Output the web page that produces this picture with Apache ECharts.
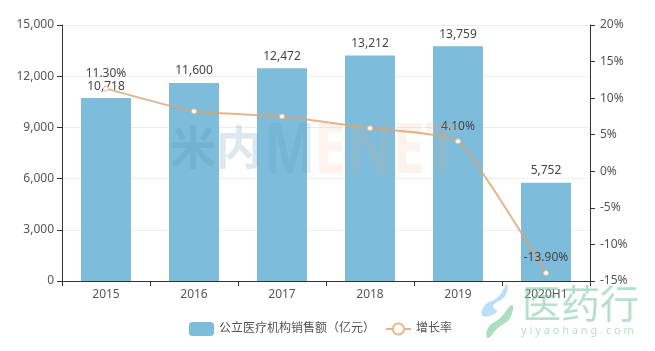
<!DOCTYPE html>
<html>
<head>
<meta charset="utf-8">
<style>html,body{margin:0;padding:0;background:#fff}#main{width:655px;height:351px}</style>
<script src="https://cdn.jsdelivr.net/npm/echarts@6/dist/echarts.min.js"></script>
</head>
<body>
<div id="main"></div>
<script>
var categories = ['2015', '2016', '2017', '2018', '2019', '2020H1'];
var sales = [10718, 11600, 12472, 13212, 13759, 5752];
var growth = [11.3, 8.2, 7.5, 5.9, 4.1, -13.9];
var growthLabels = ['11.30%', '', '', '', '4.10%', '-13.90%'];
var barName = '公立医疗机构销售额（亿元）';
var lineName = '增长率';

var FONT = '"Noto Sans", "Noto Sans CJK SC", sans-serif';
var chart = echarts.init(document.getElementById('main'), null, { renderer: 'canvas' });

chart.setOption({
  backgroundColor: '#fff',
  animation: false,
  grid: { left: 62, right: 65, top: 25, bottom: 70 },
  legend: {
    bottom: 10,
    left: 184,
    itemGap: 10,
    itemWidth: 25,
    itemHeight: 14,
    textStyle: { color: '#555', fontSize: 12, fontFamily: FONT },
    data: [barName, lineName]
  },
  xAxis: {
    type: 'category',
    data: categories,
    axisLine: { lineStyle: { color: '#333' } },
    axisTick: { show: true, lineStyle: { color: '#333' } },
    axisLabel: { color: '#555', fontSize: 12, margin: 8, fontFamily: FONT }
  },
  yAxis: [
    {
      type: 'value',
      min: 0,
      max: 15000,
      interval: 3000,
      axisLine: { show: true, lineStyle: { color: '#333' } },
      axisTick: { show: true, lineStyle: { color: '#333' } },
      splitLine: { lineStyle: { color: '#eee' } },
      axisLabel: {
        color: '#555', fontSize: 12, fontFamily: FONT,
        formatter: function (v) { return v.toLocaleString('en-US'); }
      }
    },
    {
      type: 'value',
      min: -15,
      max: 20,
      interval: 5,
      axisLine: { show: true, lineStyle: { color: '#333' } },
      axisTick: { show: true, lineStyle: { color: '#333' } },
      splitLine: { show: false },
      axisLabel: { color: '#555', fontSize: 12, margin: 10, fontFamily: FONT, formatter: '{value}%' }
    }
  ],
  series: [
    {
      name: barName,
      type: 'bar',
      yAxisIndex: 0,
      barWidth: 50,
      data: sales,
      itemStyle: { color: '#7dbcdb' },
      label: {
        show: true,
        position: 'top',
        distance: 6,
        color: '#444',
        fontSize: 12,
        fontFamily: FONT,
        formatter: function (p) { return p.value.toLocaleString('en-US'); }
      }
    },
    {
      name: lineName,
      type: 'line',
      yAxisIndex: 1,
      smooth: 0.15,
      data: growth,
      symbol: 'circle',
      symbolSize: 5,
      lineStyle: { color: '#dca36d', width: 2, opacity: 0.8 },
      itemStyle: { color: '#fff', borderColor: '#e6b88c', borderWidth: 1 },
      label: {
        show: true,
        position: 'top',
        distance: 6,
        color: '#444',
        fontSize: 12,
        fontFamily: FONT,
        formatter: function (p) { return growthLabels[p.dataIndex]; }
      }
    }
  ],
  graphic: [
    // 水印
    { type: 'text', z: 100, left: 170, top: 124, silent: true, style: { text: '米内', fill: 'rgba(80,140,170,0.2)', font: 'bold 46px "Noto Sans CJK SC"' } },
    { type: 'text', z: 100, left: 264, top: 118, scaleX: 0.78, silent: true, style: { text: 'M', fill: 'rgba(90,150,180,0.16)', font: 'bold 70px "Noto Sans"' } },
    { type: 'text', z: 100, left: 314, top: 118, scaleX: 0.82, silent: true, style: { text: 'ENET', fill: 'rgba(240,170,110,0.14)', font: 'bold 70px "Noto Sans"' } },
    // 医药行 logo
    { type: 'polygon', z: 100, silent: true, shape: { smooth: 0.5, points: [[507, 284], [498, 297], [484, 306], [483, 316], [497, 312], [493, 306], [505, 296]] }, style: { fill: 'rgba(170,215,250,0.8)' } },
    { type: 'polygon', z: 100, silent: true, shape: { smooth: 0.5, points: [[512, 305], [500, 318], [488, 328], [488, 338], [498, 328], [510, 318]] }, style: { fill: 'rgba(150,215,175,0.8)' } },
    { type: 'text', z: 100, left: 522, top: 284, silent: true, style: { text: '医药行', fill: 'rgba(120,200,160,0.55)', font: '39px "Noto Sans CJK SC"' } },
    { type: 'text', z: 100, left: 521, top: 325, silent: true, style: { text: 'y i y a o h a n g . c o m', fill: 'rgba(120,200,160,0.55)', font: '11px "Noto Sans"' } }
  ]
});

window.addEventListener('resize', function () { chart.resize(); });
</script>
</body>
</html>
